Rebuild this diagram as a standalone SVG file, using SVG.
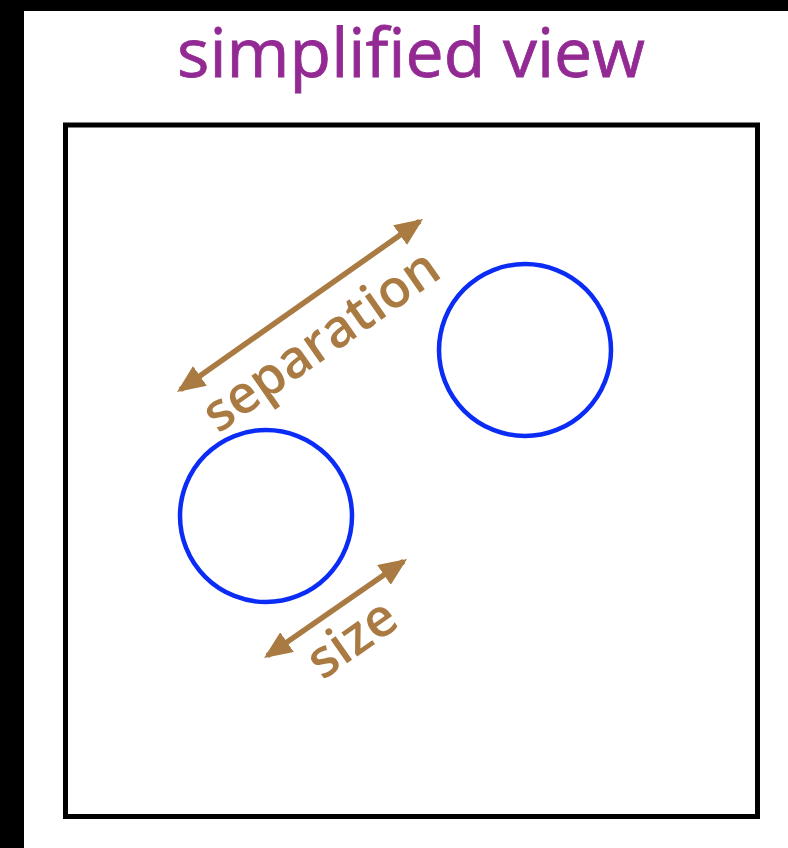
<svg xmlns="http://www.w3.org/2000/svg" width="788" height="848" viewBox="0 0 788 848">
<style>
.title{font-family:"Open Sans","DejaVu Sans",sans-serif;font-size:68px;fill:#932a94;stroke:#932a94;stroke-width:0.8;}
.lbl{font-family:"Open Sans","DejaVu Sans",sans-serif;font-size:53px;font-weight:600;fill:#a97b42;}
.arrow{stroke:#a97b42;stroke-width:5.5;fill:none;marker-start:url(#ah);marker-end:url(#ah);}
.circ{fill:none;stroke:#0a2cf5;stroke-width:4.5;}
</style>
<defs>
<marker id="ah" markerUnits="userSpaceOnUse" markerWidth="32" markerHeight="28" refX="24" refY="12" orient="auto-start-reverse" viewBox="0 0 32 28">
<path d="M0,0 L28,12 L0,24 z" fill="#a97b42"/>
</marker>
</defs>
<rect x="0" y="0" width="788" height="848" fill="#ffffff"/>
<rect x="0" y="0" width="788" height="11" fill="#000000"/>
<rect x="0" y="0" width="24" height="848" fill="#000000"/>
<g id="title"><text class="title" x="411" y="77" text-anchor="middle">simplified view</text></g>
<g id="frame"><rect x="65.5" y="125" width="692" height="691.5" fill="none" stroke="#000" stroke-width="5"/></g>
<g id="circle-left"><circle class="circ" cx="266" cy="516" r="86"/></g>
<g id="circle-right"><circle class="circ" cx="525" cy="350" r="86"/></g>
<g id="connectors">
<path class="arrow" d="M180.3,389.7 L419.7,221.3"/>
<path class="arrow" d="M267.3,655.7 L403.7,561.3"/>
</g>
<g id="label-separation"><text class="lbl" transform="translate(331,355) rotate(-35)" text-anchor="middle">separation</text></g>
<g id="label-size"><text class="lbl" transform="translate(362,653) rotate(-35)" text-anchor="middle">size</text></g>
</svg>
